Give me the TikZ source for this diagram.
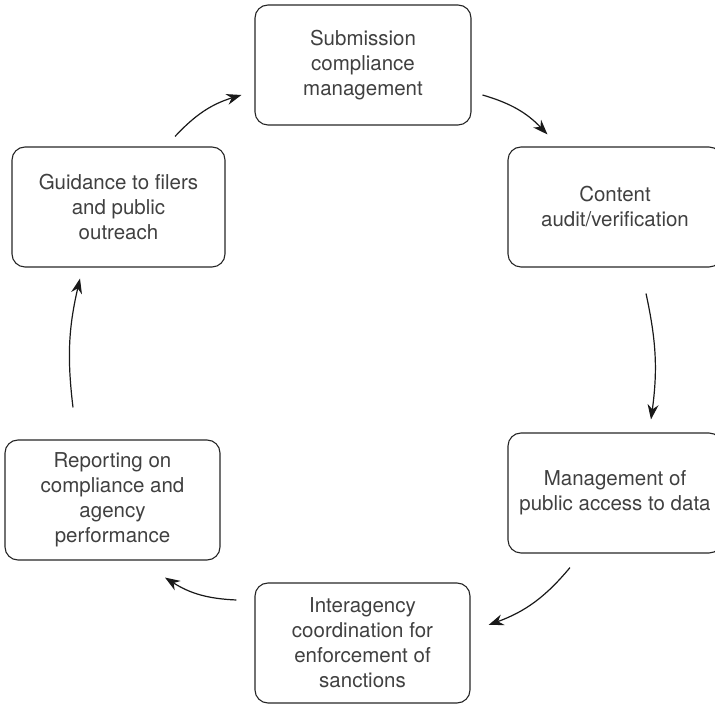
\documentclass[tikz,border=0pt]{standalone}
\usepackage{fontspec}
\setmainfont{TeX Gyre Heros}
\usetikzlibrary{arrows.meta,calc}
\begin{document}
\begin{tikzpicture}[x=1pt,y=1pt,
  box/.style={draw=black!85, line width=1.1pt, rounded corners=13pt,
    minimum height=120pt, align=center, text=black!75,
    font=\fontsize{20.5}{25}\selectfont, inner sep=0pt},
  arr/.style={draw=black!90, line width=1.2pt, -{Stealth[length=15pt,width=11pt]}}]
\useasboundingbox (0,0) rectangle (715,704);
\clip (0,0) rectangle (715,704);
\node[box, minimum width=216pt] (sub) at (363,639) {Submission\\compliance\\management};
\node[box, minimum width=214pt] (con) at (615,497) {Content\\audit/verification};
\node[box, minimum width=214pt] (man) at (615,211) {Management of\\public access to data};
\node[box, minimum width=215pt] (int) at (362.5,61) {Interagency\\coordination for\\enforcement of\\sanctions};
\node[box, minimum width=215pt] (rep) at (112.5,204) {Reporting on\\compliance and\\agency\\performance};
\node[box, minimum width=213pt] (gui) at (118.5,497) {Guidance to filers\\and public\\outreach};

\draw[arr] ([shift={(56.5,10)}]gui.north) to[bend left=15] ([shift={(-13,-30)}]sub.west);
\draw[arr] ([shift={(11,-30)}]sub.east) to[bend left=15] ([shift={(40,12)}]con.north west);
\draw[arr] ([shift={(31,-26)}]con.south) to[bend left=10] ([shift={(36,13)}]man.north);
\draw[arr] ([shift={(-45,-14)}]man.south) to[bend left=15] ([shift={(18,18)}]int.east);
\draw[arr] ([shift={(-18,43)}]int.west) to[bend left=15] ([shift={(52.5,-17)}]rep.south);
\draw[arr] ([shift={(-39.5,32)}]rep.north) to[bend left=10] ([shift={(-38.5,-11)}]gui.south);
\end{tikzpicture}
\end{document}
